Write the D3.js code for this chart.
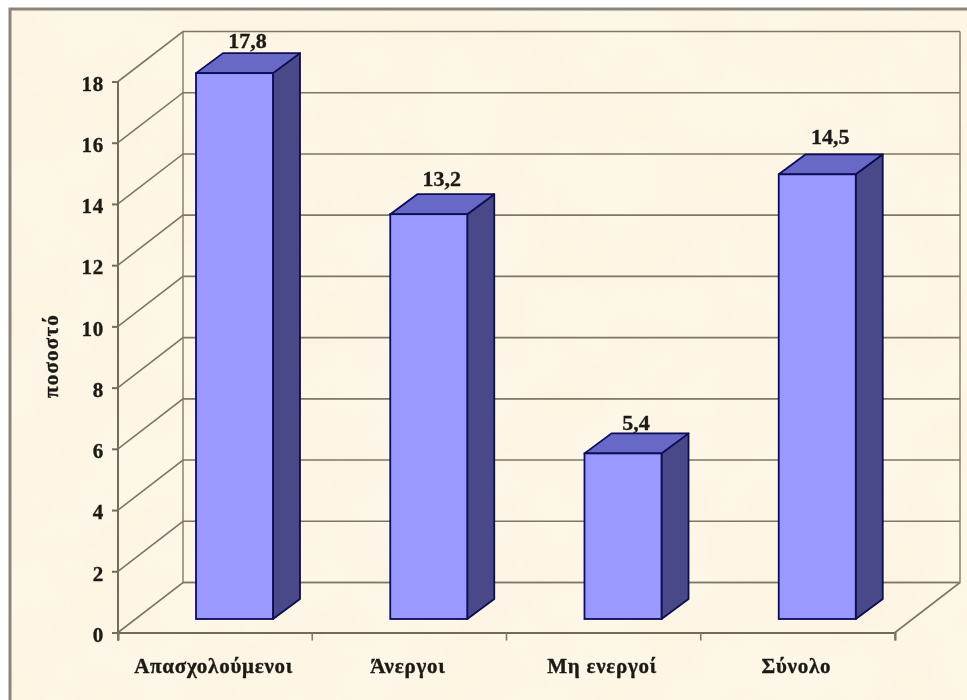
<!DOCTYPE html>
<html><head><meta charset="utf-8">
<script src="https://cdnjs.cloudflare.com/ajax/libs/d3/7.8.5/d3.min.js"></script>
<style>html,body{margin:0;padding:0;background:#fff;overflow:hidden}svg{display:block}
text{font-family:"Liberation Serif","Times New Roman",serif;font-weight:bold;fill:#1c1a16;stroke:#1c1a16;stroke-width:0.35px}</style>
</head><body><svg id="c" width="967" height="700"></svg>
<script>
const categories = ["Απασχολούμενοι","Άνεργοι","Μη ενεργοί","Σύνολο"];
const values = [17.8,13.2,5.4,14.5];
const valueLabels = ["17,8","13,2","5,4","14,5"];
const yTicks = [0,2,4,6,8,10,12,14,16,18];
const yTitle = "ποσοστό";

const svg = d3.select("#c");
const defs = svg.append("defs");
const soft = defs.append("filter").attr("id","soft").attr("x","-5%").attr("y","-5%").attr("width","110%").attr("height","110%");
soft.append("feGaussianBlur").attr("stdDeviation",0.7);
const tex = defs.append("filter").attr("id","tex").attr("x",0).attr("y",0).attr("width","100%").attr("height","100%");
tex.append("feTurbulence").attr("type","fractalNoise").attr("baseFrequency",0.014).attr("numOctaves",3).attr("seed",11);
tex.append("feColorMatrix").attr("type","matrix").attr("values","0 0 0 0 0.98  0 0 0 0 0.87  0 0 0 0 0.68  1.6 0 0 0 -0.55");

const x = d3.scaleBand().domain(categories).range([118,895]);
const y = d3.scaleLinear().domain([0,18]).range([632.5,81.5]);
const yBar = d3.scaleLinear().domain([0,18]).range([619,67]);
const wallDx = 65, wallDy = -50;
const barW = 77, barDepthX = 27, barDepthY = -20;
const barLeft = c => x(c) + 78;
const labelRise = [5,8,3,10];

svg.append("rect").attr("x",10).attr("y",9).attr("width",1000).attr("height",800).attr("fill","#fdf7e8");
svg.append("rect").attr("x",11).attr("y",10).attr("width",956).attr("height",690).attr("fill","#fff").attr("filter","url(#tex)").attr("opacity",0.5);

const g = svg.append("g").attr("filter","url(#soft)");
g.append("rect").attr("x",10).attr("y",9).attr("width",1000).attr("height",800).attr("fill","none").attr("stroke","#8a8578").attr("stroke-width",3);

const gridC = "#7e7766";
const left = x.range()[0], right = x.range()[1];
g.append("path").attr("fill","none").attr("stroke","#8f8b80").attr("stroke-width",1.6)
 .attr("d",`M${left+wallDx},${y(18)+wallDy}V${y(0)+wallDy}H${right+wallDx}V${y(18)+wallDy}`);
g.append("path").attr("fill","none").attr("stroke",gridC).attr("stroke-width",1.6)
 .attr("d",`M${right},${y(0)}L${right+wallDx},${y(0)+wallDy}`);
g.append("g").selectAll("path").data(yTicks).join("path").attr("fill","none").attr("stroke",gridC).attr("stroke-width",1.6)
 .attr("d",d=>`M${left},${y(d)}L${left+wallDx},${y(d)+wallDy}H${right+wallDx}`);

const ax = d3.axisLeft(y).tickValues(yTicks).tickSize(6).tickPadding(8);
const ag = g.append("g").attr("transform",`translate(${left},0)`).call(ax);
ag.selectAll("path,line").attr("stroke","#6f6c62").attr("stroke-width",2);
ag.select(".domain").attr("d",`M0,${y(18)}V${y(0)+8}`);
ag.selectAll("text").attr("font-size",21).attr("font-family",null).attr("fill",null).attr("dy","0.42em").attr("letter-spacing",0.7);
const bx = d3.axisBottom(x).tickSize(8).tickPadding(14).tickSizeOuter(8);
const bg = g.append("g").attr("transform",`translate(0,${y(0)})`).call(bx);
bg.selectAll("path,line").attr("stroke","#6f6a5c").attr("stroke-width",2);
bg.selectAll(".tick line").remove();
bg.selectAll("text").attr("font-size",21).attr("font-family",null).attr("fill",null).attr("dy",0).attr("y",40)
  .attr("x",-1.5).attr("letter-spacing",0.75);
g.append("g").selectAll("line").data(x.domain().map(c=>x(c)).concat([right])).join("line")
 .attr("x1",d=>d).attr("x2",d=>d).attr("y1",y(0)).attr("y2",y(0)+8).attr("stroke","#7d7868").attr("stroke-width",1.6);

const bars = g.append("g").selectAll("g").data(categories).join("g");
const stroke = "#0c0c55";
const Y = i => yBar(values[i]);
const Y0 = yBar(0);
bars.append("path").attr("fill","#4a4a8a").attr("stroke",stroke).attr("stroke-width",1.8).attr("stroke-linejoin","round")
 .attr("d",(c,i)=>{const r=barLeft(c)+barW;return `M${r},${Y(i)}L${r+barDepthX},${Y(i)+barDepthY}V${Y0+barDepthY}L${r},${Y0}Z`;});
bars.append("path").attr("fill","#6868c6").attr("stroke",stroke).attr("stroke-width",1.8).attr("stroke-linejoin","round")
 .attr("d",(c,i)=>{const l=barLeft(c);return `M${l},${Y(i)}L${l+barDepthX},${Y(i)+barDepthY}H${l+barW+barDepthX}L${l+barW},${Y(i)}Z`;});
bars.append("rect").attr("fill","#9999ff").attr("stroke",stroke).attr("stroke-width",1.8)
 .attr("x",c=>barLeft(c)).attr("width",barW).attr("y",(c,i)=>Y(i)).attr("height",(c,i)=>Y0-Y(i));
bars.append("text").attr("text-anchor","middle").attr("font-size",22)
 .attr("x",c=>barLeft(c)+barW/2+13).attr("y",(c,i)=>Y(i)+barDepthY-labelRise[i]).text((c,i)=>valueLabels[i]);

g.append("text").attr("transform","translate(58,356) rotate(-90)").attr("text-anchor","middle").attr("font-size",21).attr("letter-spacing",1.2).text(yTitle);
</script></body></html>
